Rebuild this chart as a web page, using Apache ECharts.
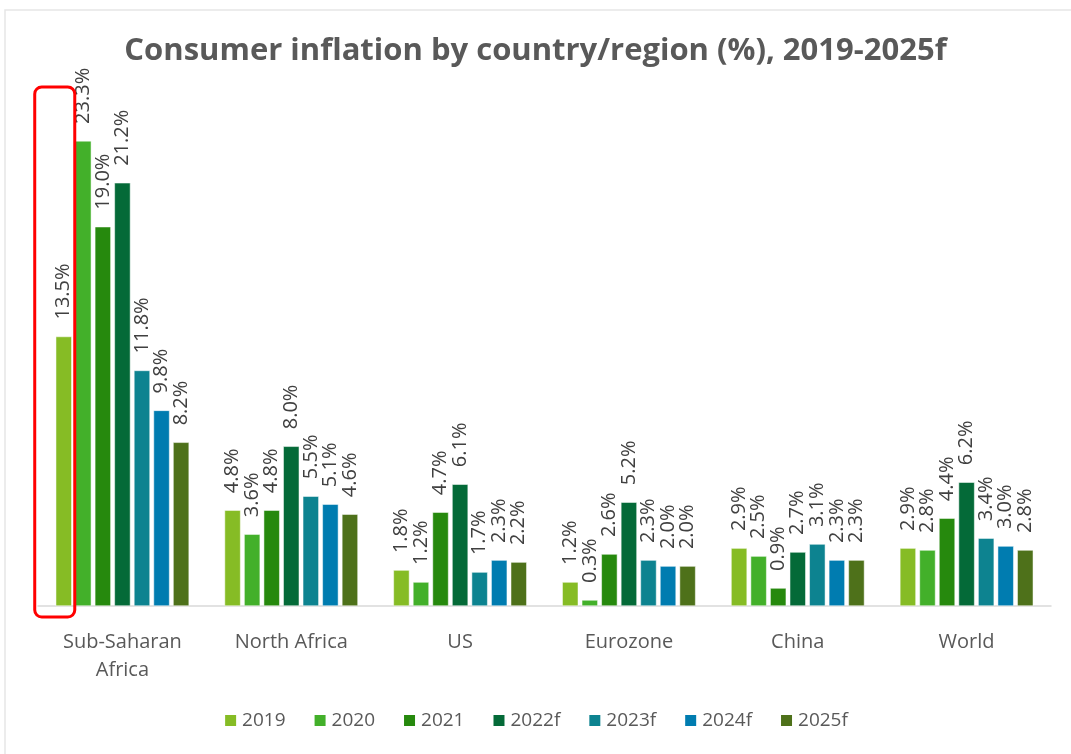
<!DOCTYPE html>
<html>
<head>
<meta charset="utf-8">
<script src="https://cdn.jsdelivr.net/npm/echarts@6/dist/echarts.min.js"></script>
<style>
  html, body { margin: 0; padding: 0; background: #fff; }
  #chart { width: 1071px; height: 754px; }
</style>
</head>
<body>
<div id="chart"></div>
<script>
// categories and series
const regions = ['Sub-Saharan\nAfrica', 'North Africa', 'US', 'Eurozone', 'China', 'World'];
const years = ['2019', '2020', '2021', '2022f', '2023f', '2024f', '2025f'];
const v2019 = [13.5, 4.8, 1.8, 1.2, 2.9, 2.9];
const v2020 = [23.3, 3.6, 1.2, 0.3, 2.5, 2.8];
const v2021 = [19.0, 4.8, 4.7, 2.6, 0.9, 4.4];
const v2022f = [21.2, 8.0, 6.1, 5.2, 2.7, 6.2];
const v2023f = [11.8, 5.5, 1.7, 2.3, 3.1, 3.4];
const v2024f = [9.8, 5.1, 2.3, 2.0, 2.3, 3.0];
const v2025f = [8.2, 4.6, 2.2, 2.0, 2.3, 2.8];
const seriesValues = [v2019, v2020, v2021, v2022f, v2023f, v2024f, v2025f];
const colors = ['#86BC25', '#43B02A', '#26890D', '#046A38', '#0D8390', '#007CB0', '#4E711A'];

const FONT = '"Open Sans", "Noto Sans", sans-serif';

const chart = echarts.init(document.getElementById('chart'), null, { renderer: 'canvas' });

const option = {
  backgroundColor: '#fff',
  animation: false,
  color: colors,
  title: {
    text: 'Consumer inflation by country/region (%), 2019-2025f',
    left: 'center',
    top: 31,
    textStyle: { fontFamily: FONT, fontSize: 31, fontWeight: 'bold', color: '#595959' }
  },
  legend: {
    bottom: 19,
    left: 'center',
    itemWidth: 13,
    itemHeight: 13,
    itemGap: 27,
    icon: 'rect',
    textStyle: { fontFamily: FONT, fontSize: 19, color: '#595959' },
    data: years
  },
  grid: { left: 38, right: 20, top: 87, bottom: 148 },
  xAxis: {
    type: 'category',
    data: regions,
    axisLine: { lineStyle: { color: '#d9d9d9', width: 1.5 } },
    axisTick: { show: false },
    axisLabel: { fontFamily: FONT, fontSize: 20, color: '#595959', margin: 22, lineHeight: 28 }
  },
  yAxis: {
    type: 'value',
    min: 0,
    max: 26,
    show: false,
    splitLine: { show: false }
  },
  series: years.map((y, i) => ({
    name: y,
    type: 'bar',
    data: seriesValues[i],
    barGap: '22%',
    barCategoryGap: '21%',
    itemStyle: { color: colors[i], borderColor: '#ffffff', borderWidth: 0.5 },
    label: {
      show: true,
      position: 'top',
      rotate: 90,
      align: 'left',
      verticalAlign: 'middle',
      distance: 17,
      fontFamily: FONT,
      fontSize: 20,
      color: '#404040',
      formatter: p => p.value.toFixed(1) + '%'
    }
  }))
};

chart.setOption(option);

// light frame and the red highlight around the first bar
const layout = chart.getModel().getSeriesByIndex(0).getData().getItemLayout(0);
const bx = layout.x, bw = layout.width;
const base = Math.max(layout.y, layout.y + layout.height);
chart.setOption({
  graphic: [
    {
      type: 'rect',
      shape: { x: 5, y: 10, width: 1080, height: 760 },
      style: { fill: 'none', stroke: '#e6e6e6', lineWidth: 1.5 },
      silent: true
    },
    {
      type: 'rect',
      shape: { x: bx - 21, y: 87, width: bw + 24, height: base - 87 + 11, r: 7 },
      style: { fill: 'none', stroke: '#ff0000', lineWidth: 3 },
      z: 100,
      silent: true
    }
  ]
});
</script>
</body>
</html>
